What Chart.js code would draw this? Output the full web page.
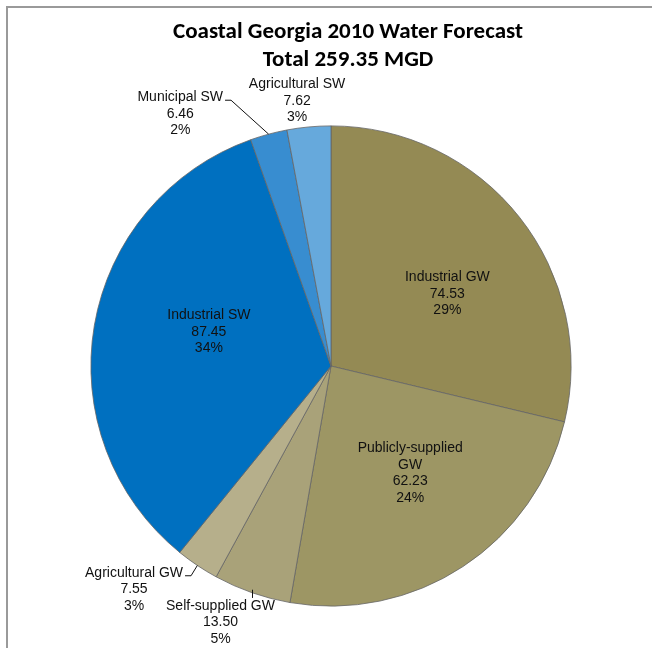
<!DOCTYPE html>
<html>
<head>
<meta charset="utf-8">
<script src="https://cdn.jsdelivr.net/npm/chart.js@4.4.1/dist/chart.umd.min.js"></script>
<style>
  html, body { margin: 0; padding: 0; background: #fff; width: 652px; height: 648px; overflow: hidden; }
  #frame { position: absolute; left: 6px; top: 6px; width: 760px; height: 760px; border: 2px solid #9a9a9a; box-sizing: border-box; }
  #c { position: absolute; left: 0; top: 0; }
</style>
</head>
<body>
<div id="frame"></div>
<canvas id="c" width="652" height="648"></canvas>
<script>
// Water use categories, clockwise from 12 o'clock
const categories = [
  'Industrial GW',
  ['Publicly-supplied', 'GW'],
  'Self-supplied GW',
  'Agricultural GW',
  'Industrial SW',
  'Municipal SW',
  'Agricultural SW'
];
// Million gallons per day
const values = [74.53, 62.23, 13.50, 7.55, 87.45, 6.46, 7.62];
const sliceColors = ['#948A54', '#9D9664', '#A9A279', '#B6AF8B', '#0070C0', '#388DD0', '#66A9DC'];

const titleLines = ['Coastal Georgia 2010 Water Forecast', 'Total 259.35 MGD'];

// Label placement: radius as a fraction of the pie radius, plus an angular nudge (degrees)
const labelRadius = [0.57, 0.555, 1.163, 1.24, 0.528, 1.224, 1.113];
const labelShift  = [6.5, -3.1, 4.1, 7.6, 5.8, -15.8, -2.0];
// Leader style for labels that sit outside the pie
const leaderStyle = [null, null, 'drop', 'elbow', null, 'elbow', null];

const total = values.reduce((a, b) => a + b, 0);
const LABEL_FONT = '14px "Liberation Sans", Arial, sans-serif';
const LINE_H = 16.5;

const titlePlugin = {
  id: 'chartTitle',
  afterDraw(chart) {
    const ctx = chart.ctx;
    ctx.save();
    ctx.fillStyle = '#000';
    ctx.font = 'bold 23px Carlito, "Open Sans", sans-serif';
    ctx.textAlign = 'center';
    ctx.textBaseline = 'middle';
    ctx.fillText(titleLines[0], 348, 32);
    ctx.fillText(titleLines[1], 348, 60);
    ctx.restore();
  }
};

const sliceLabels = {
  id: 'sliceLabels',
  afterDatasetsDraw(chart) {
    const ctx = chart.ctx;
    const meta = chart.getDatasetMeta(0);
    ctx.save();
    ctx.font = LABEL_FONT;
    ctx.fillStyle = '#111';
    ctx.textAlign = 'center';
    ctx.textBaseline = 'middle';
    meta.data.forEach((arc, i) => {
      const p = arc.getProps(['x', 'y', 'startAngle', 'endAngle', 'outerRadius'], true);
      const mid = (p.startAngle + p.endAngle) / 2;
      const ang = mid + labelShift[i] * Math.PI / 180;
      const r = p.outerRadius * labelRadius[i];
      const cx = p.x + Math.cos(ang) * r;
      const cy = p.y + Math.sin(ang) * r;
      const name = categories[i];
      const lines = (Array.isArray(name) ? name.slice() : [name]);
      lines.push(values[i].toFixed(2));
      lines.push(Math.round(values[i] / total * 100) + '%');
      const top = cy - (lines.length - 1) * LINE_H / 2;
      lines.forEach((t, k) => ctx.fillText(t, cx, top + k * LINE_H));

      // leader lines
      const rimX = p.x + Math.cos(mid) * p.outerRadius;
      const rimY = p.y + Math.sin(mid) * p.outerRadius;
      const firstW = ctx.measureText(lines[0]).width;
      ctx.strokeStyle = '#111';
      ctx.lineWidth = 1;
      if (leaderStyle[i] === 'elbow') {
        const right = cx + firstW / 2;
        ctx.beginPath();
        ctx.moveTo(rimX, rimY);
        ctx.lineTo(right + 8, top + 3);
        ctx.lineTo(right + 2, top + 3);
        ctx.stroke();
      } else if (leaderStyle[i] === 'drop') {
        ctx.beginPath();
        ctx.moveTo(Math.round(rimX) + 0.5, rimY - 3);
        ctx.lineTo(Math.round(rimX) + 0.5, top - 8);
        ctx.stroke();
      }
    });
    ctx.restore();
  }
};

new Chart(document.getElementById('c'), {
  type: 'pie',
  data: {
    labels: categories,
    datasets: [{
      data: values,
      backgroundColor: sliceColors,
      borderColor: '#666',
      borderWidth: 0.8
    }]
  },
  options: {
    responsive: false,
    animation: false,
    events: [],
    layout: { padding: { left: 90.5, right: 80.5, top: 125.5, bottom: 41.5 } },
    plugins: {
      legend: { display: false },
      tooltip: { enabled: false },
      title: { display: false }
    }
  },
  plugins: [sliceLabels, titlePlugin]
});
</script>
</body>
</html>
